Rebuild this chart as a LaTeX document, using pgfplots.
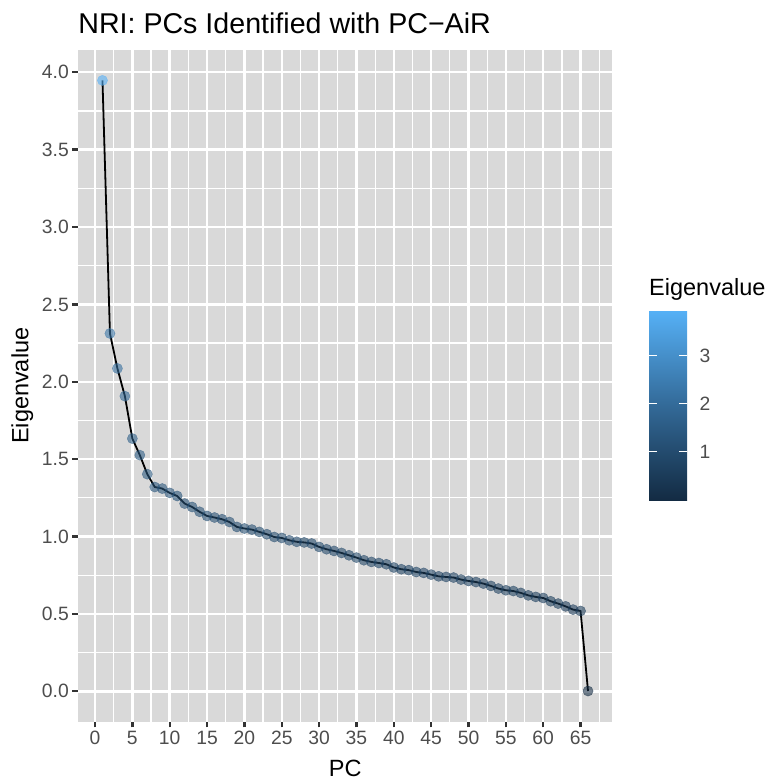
\documentclass[border=0pt]{standalone}
\usepackage{pgfplots}
\pgfplotsset{compat=1.18}
\usepackage{fontspec}
\setmainfont{Liberation Sans}

\definecolor{panelgray}{HTML}{D9D9D9}
\definecolor{ticktext}{HTML}{4D4D4D}
\definecolor{tickmark}{HTML}{333333}
\pgfplotsset{
  colormap={ggblue}{rgb255(0)=(19,43,67); rgb255(1)=(51,106,152); rgb255(2)=(86,177,247)}
}

% Eigenvalues of the principal components
\pgfplotstableread{
pc eig
1 3.947
2 2.312
3 2.086
4 1.907
5 1.633
6 1.526
7 1.403
8 1.320
9 1.310
10 1.282
11 1.262
12 1.213
13 1.191
14 1.160
15 1.133
16 1.123
17 1.112
18 1.094
19 1.062
20 1.052
21 1.045
22 1.030
23 1.015
24 0.997
25 0.991
26 0.976
27 0.966
28 0.962
29 0.955
30 0.933
31 0.918
32 0.907
33 0.894
34 0.879
35 0.864
36 0.847
37 0.836
38 0.829
39 0.821
40 0.800
41 0.789
42 0.783
43 0.771
44 0.765
45 0.754
46 0.743
47 0.739
48 0.735
49 0.722
50 0.713
51 0.706
52 0.696
53 0.681
54 0.664
55 0.653
56 0.648
57 0.636
58 0.620
59 0.610
60 0.603
61 0.582
62 0.567
63 0.549
64 0.528
65 0.519
66 0.002
}\eigtable

\begin{document}
\begin{tikzpicture}[x=1pt,y=1pt]
\useasboundingbox (0,0) rectangle (769,-780);
\begin{axis}[
  at={(78.2pt,-721.5pt)}, anchor=south west,
  scale only axis, width=534.1pt, height=671.6pt,
  xmin=-2.25, xmax=69.25, ymin=-0.195, ymax=4.144,
  axis background/.style={fill=panelgray},
  axis line style={draw=none},
  grid=both,
  major grid style={white, line width=2.5pt},
  minor grid style={white, line width=1.25pt},
  xtick={0,5,...,65},
  ytick={0,0.5,...,4},
  minor xtick={2.5,7.5,...,67.5},
  minor ytick={0.25,0.75,...,3.75},
  tick pos=left,
  tick align=outside,
  major tick length=5.9pt,
  minor tick length=0pt,
  tick style={tickmark, line width=2.3pt},
  /pgf/number format/assume math mode=true,
  ticklabel style={font=\fontsize{19.3}{21}\selectfont, text=ticktext},
  yticklabel style={/pgf/number format/.cd, fixed, fixed zerofill, precision=1},
  xlabel={PC},
  ylabel={Eigenvalue},
  label style={font=\fontsize{23.5}{26}\selectfont},
  xlabel style={at={(axis description cs:0.5,-0.0812)}, anchor=base},
  ylabel style={at={(axis description cs:-0.0931,0.5)}, anchor=base},
  colormap name=ggblue,
  point meta min=0.002, point meta max=3.947,
  colorbar,
  colorbar/width=38pt,
  colorbar shift/.style={},
  colorbar style={
    at={(parent axis.south east)}, anchor=south west,
    xshift=36.7pt, yshift=221.5pt,
    scale only axis, width=38pt, height=190pt,
    axis line style={draw=none},
    ytick={1,2,3},
    yticklabel pos=right,
    ytick pos=both,
    tick align=inside,
    major tick length=7.6pt,
    tick style={white, line width=1pt},
    /pgf/number format/assume math mode=true,
    yticklabel style={font=\fontsize{19.3}{21}\selectfont, text=ticktext, xshift=9pt},
  },
]
\addplot[scatter, only marks, mark=*, mark size=5.1pt, opacity=0.58,
  scatter src=explicit,
  scatter/use mapped color={draw=mapped color, fill=mapped color}]
  table[x=pc, y=eig, meta=eig] {\eigtable};
\addplot[black, line width=1.8pt, no marks] table[x=pc, y=eig] {\eigtable};
\end{axis}
\node[anchor=base west, font=\fontsize{28.6}{31}\selectfont, inner sep=0pt] at (78.2,-33) {NRI: PCs Identified with PC−AiR};
\node[anchor=base west, font=\fontsize{23.5}{26}\selectfont, inner sep=0pt] at (649,-295.5) {Eigenvalue};
\end{tikzpicture}
\end{document}
